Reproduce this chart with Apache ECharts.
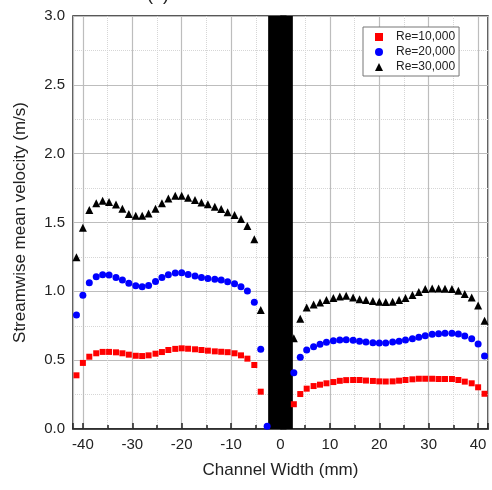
<!DOCTYPE html>
<html>
<head>
<meta charset="utf-8">
<script src="https://cdn.jsdelivr.net/npm/echarts@6/dist/echarts.min.js"></script>
<style>
  html, body { margin: 0; padding: 0; background: #fff; }
  #chart { width: 492px; height: 490px; }
</style>
</head>
<body>
<div id="chart"></div>
<script>
// channel positions (mm)
const channel = [
  -41.3, -40.0, -38.7, -37.3, -36.0, -34.7, -33.3, -32.0, -30.7, -29.3,
  -28.0, -26.7, -25.3, -24.0, -22.7, -21.3, -20.0, -18.7, -17.3, -16.0,
  -14.7, -13.3, -12.0, -10.7, -9.3, -8.0, -6.7, -5.3, -4.0, -2.7,
  2.7, 4.0, 5.3, 6.7, 8.0, 9.3, 10.7, 12.0, 13.3, 14.7,
  16.0, 17.3, 18.7, 20.0, 21.3, 22.7, 24.0, 25.3, 26.7, 28.0,
  29.3, 30.7, 32.0, 33.3, 34.7, 36.0, 37.3, 38.7, 40.0, 41.3
];
const re10 = [
  0.39, 0.48, 0.525, 0.55, 0.56, 0.56, 0.557, 0.55, 0.54, 0.532,
  0.53, 0.535, 0.547, 0.559, 0.574, 0.582, 0.586, 0.583, 0.579, 0.574,
  0.569, 0.564, 0.561, 0.558, 0.55, 0.535, 0.511, 0.465, 0.271, null,
  0.18, 0.254, 0.293, 0.312, 0.322, 0.332, 0.341, 0.35, 0.355, 0.356,
  0.356, 0.352, 0.349, 0.346, 0.345, 0.346, 0.351, 0.356, 0.361, 0.365,
  0.365, 0.365, 0.363, 0.363, 0.363, 0.356, 0.344, 0.332, 0.303, 0.256
];
const re20 = [
  0.828, 0.971, 1.063, 1.106, 1.121, 1.118, 1.101, 1.082, 1.058, 1.041,
  1.033, 1.043, 1.072, 1.101, 1.121, 1.133, 1.135, 1.123, 1.111, 1.101,
  1.094, 1.087, 1.082, 1.07, 1.055, 1.033, 1.002, 0.92, 0.58, 0.02,
  0.409, 0.521, 0.574, 0.598, 0.615, 0.63, 0.641, 0.646, 0.649, 0.644,
  0.637, 0.632, 0.627, 0.625, 0.625, 0.632, 0.637, 0.646, 0.656, 0.666,
  0.678, 0.688, 0.692, 0.695, 0.695, 0.69, 0.675, 0.656, 0.617, 0.53
];
const re30 = [
  1.247, 1.462, 1.59, 1.64, 1.658, 1.649, 1.63, 1.60, 1.561, 1.549,
  1.549, 1.566, 1.60, 1.64, 1.675, 1.694, 1.694, 1.68, 1.663, 1.646,
  1.632, 1.614, 1.598, 1.574, 1.554, 1.525, 1.474, 1.378, 0.864, null,
  0.66, 0.80, 0.882, 0.904, 0.918, 0.937, 0.952, 0.962, 0.968, 0.956,
  0.942, 0.937, 0.93, 0.925, 0.922, 0.925, 0.937, 0.952, 0.973, 0.995,
  1.017, 1.02, 1.02, 1.018, 1.017, 1.005, 0.98, 0.955, 0.897, 0.787
];
const seriesNames = ['Re=10,000', 'Re=20,000', 'Re=30,000'];
const wall = [-2.5, 2.5];

function pairs(vals) {
  return channel.map((x, i) => vals[i] == null ? null : [x, vals[i]]).filter(p => p);
}

const font = '"Liberation Sans", Arial, sans-serif';
const chart = echarts.init(document.getElementById('chart'));
chart.setOption({
  animation: false,
  title: {
    text: '(a)',
    left: 142,
    top: -19,
    textStyle: { fontFamily: font, fontSize: 18, fontWeight: 'normal', color: '#222' }
  },
  grid: {
    left: 73, right: 4, top: 16, bottom: 61,
    show: true, borderColor: '#222', borderWidth: 1.5
  },
  legend: {
    data: seriesNames,
    orient: 'vertical',
    left: 363,
    top: 27,
    padding: [4, 4, 3, 12],
    itemGap: 3,
    itemWidth: 8,
    itemHeight: 8,
    backgroundColor: '#fff',
    borderColor: '#777',
    borderWidth: 1,
    textStyle: { fontFamily: font, fontSize: 12, color: '#222', padding: [0, 0, 0, 8] }
  },
  xAxis: {
    type: 'value',
    min: -42,
    max: 42,
    minInterval: 10,
    maxInterval: 10,
    name: 'Channel Width (mm)',
    nameLocation: 'middle',
    nameGap: 33,
    nameTextStyle: { fontFamily: font, fontSize: 17, color: '#222' },
    axisLine: { lineStyle: { color: '#222', width: 1.5 } },
    axisTick: { inside: true, length: 6, lineStyle: { color: '#222', width: 1.5 } },
    minorTick: { show: true, splitNumber: 2, length: 4, lineStyle: { color: '#222', width: 1.5 } },
    axisLabel: {
      fontFamily: font, fontSize: 15, color: '#222', margin: 8,
      showMinLabel: false, showMaxLabel: false
    },
    splitLine: { show: true, lineStyle: { color: '#bdbdbd', width: 1.2 } },
    minorSplitLine: { show: true, lineStyle: { color: '#d6d6d6', width: 1, type: 'dotted' } }
  },
  yAxis: {
    type: 'value',
    min: 0,
    max: 3,
    interval: 0.5,
    name: 'Streamwise mean velocity (m/s)',
    nameLocation: 'middle',
    nameGap: 44,
    nameTextStyle: { fontFamily: font, fontSize: 17, color: '#222' },
    axisLine: { lineStyle: { color: '#222', width: 1.5 } },
    axisTick: { inside: true, length: 6, lineStyle: { color: '#222', width: 1.5 } },
    minorTick: { show: true, splitNumber: 2, length: 4, lineStyle: { color: '#222', width: 1.5 } },
    axisLabel: {
      fontFamily: font, fontSize: 15, color: '#222', margin: 8,
      formatter: v => v.toFixed(1)
    },
    splitLine: { show: true, lineStyle: { color: '#bdbdbd', width: 1.2 } },
    minorSplitLine: { show: true, lineStyle: { color: '#d6d6d6', width: 1, type: 'dotted' } }
  },
  series: [
    {
      name: seriesNames[0], type: 'scatter', symbol: 'rect', symbolSize: 6,
      itemStyle: { color: '#ff0000', opacity: 1 }, data: pairs(re10), z: 3
    },
    {
      name: seriesNames[1], type: 'scatter', symbol: 'circle', symbolSize: 7,
      itemStyle: { color: '#0000ff', opacity: 1 }, data: pairs(re20), z: 3
    },
    {
      name: seriesNames[2], type: 'scatter', symbol: 'triangle', symbolSize: 8,
      itemStyle: { color: '#000000', opacity: 1 }, data: pairs(re30), z: 3
    },
    {
      name: 'wall', type: 'scatter', data: [], z: 10,
      markArea: {
        silent: true,
        itemStyle: { color: '#000', opacity: 1 },
        data: [[{ xAxis: wall[0] }, { xAxis: wall[1] }]]
      }
    }
  ]
});
</script>
</body>
</html>
